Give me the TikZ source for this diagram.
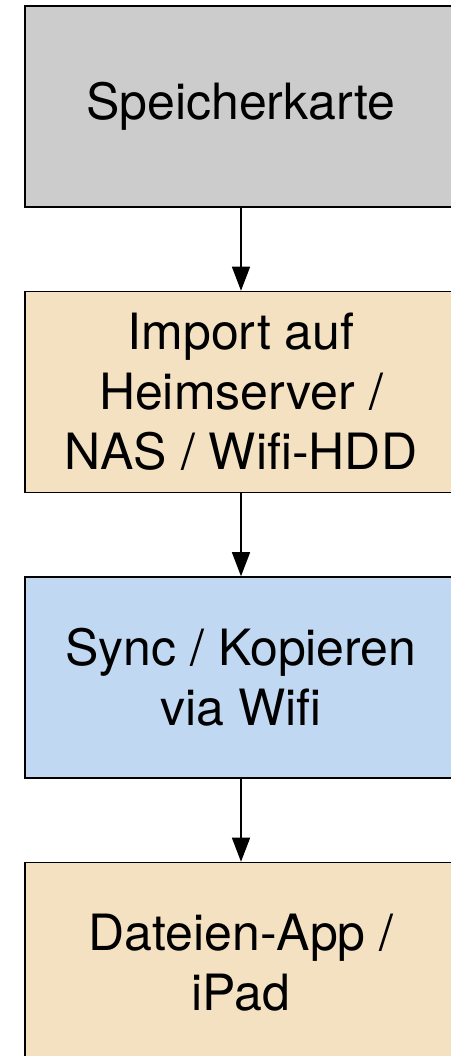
\documentclass[tikz,border=0pt]{standalone}
\usepackage{fontspec}
\setmainfont{TeX Gyre Heros}
\usetikzlibrary{positioning,arrows.meta}

\definecolor{cardgray}{RGB}{204,204,204}
\definecolor{nasbeige}{RGB}{244,225,194}
\definecolor{syncblue}{RGB}{192,216,242}

\begin{document}
\begin{tikzpicture}[x=1pt,y=1pt]
  \tikzset{stage/.style={draw, line width=1.5pt, minimum width=432pt, minimum height=201pt,
      inner sep=0pt, align=center, font=\fontsize{50}{60}\selectfont},
    flow/.style={-{Triangle[length=24pt,width=18pt]}, line width=1.4pt}}
  \useasboundingbox (0,0) rectangle (450,1056);
  \node[stage, fill=cardgray] (karte) at (241,949.5) {Speicherkarte};
  \node[stage, fill=nasbeige, below=83pt of karte] (nas) {Import auf\\Heimserver /\\NAS / Wifi-HDD};
  \node[stage, fill=syncblue, below=83pt of nas] (sync) {Sync / Kopieren\\via Wifi};
  \node[stage, fill=nasbeige, below=83pt of sync] (ipad) {Dateien-App /\\iPad};
  \draw[flow] (karte) -- (nas);
  \draw[flow] (nas) -- (sync);
  \draw[flow] (sync) -- (ipad);
\end{tikzpicture}
\end{document}
